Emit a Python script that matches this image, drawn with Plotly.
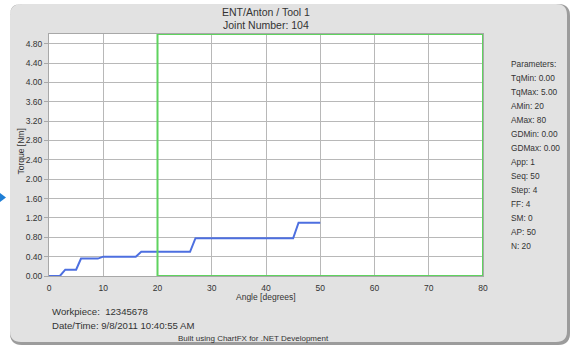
import plotly.graph_objects as go

# ---- data ----
angle = [0, 2.0, 3.0, 5.0, 5.9, 9.0, 10.0, 16.0, 17.0, 26.0, 27.0, 45.0, 46.0, 50.0]
torque = [0.0, 0.0, 0.13, 0.13, 0.36, 0.36, 0.40, 0.40, 0.50, 0.50, 0.78, 0.78, 1.10, 1.10]

param_names = ["TqMin", "TqMax", "AMin", "AMax", "GDMin", "GDMax", "App", "Seq", "Step", "FF", "SM", "AP", "N"]
param_values = ["0.00", "5.00", "20", "80", "0.00", "0.00", "1", "50", "4", "4", "0", "50", "20"]

tq_min, tq_max = 0.0, 5.0
a_min, a_max = 20, 80

title_lines = ["ENT/Anton / Tool 1", "Joint Number: 104"]
workpiece = "Workpiece:  12345678"
datetime_txt = "Date/Time: 9/8/2011 10:40:55 AM"
footer = "Built using ChartFX for .NET Development"

# ---- geometry (pixels) ----
W, H = 577, 346
L, R, T, B = 49, 483, 34, 276
PW, PH = R - L, B - T


def px(x):
    return (x - L) / PW


def py(y):
    return (B - y) / PH


def rrect(x0, y0, x1, y1, r):
    pts = [
        f"M{px(x0 + r)},{py(y0)}",
        f"L{px(x1 - r)},{py(y0)}",
        f"Q{px(x1)},{py(y0)} {px(x1)},{py(y0 + r)}",
        f"L{px(x1)},{py(y1 - r)}",
        f"Q{px(x1)},{py(y1)} {px(x1 - r)},{py(y1)}",
        f"L{px(x0 + r)},{py(y1)}",
        f"Q{px(x0)},{py(y1)} {px(x0)},{py(y1 - r)}",
        f"L{px(x0)},{py(y0 + r)}",
        f"Q{px(x0)},{py(y0)} {px(x0 + r)},{py(y0)}",
        "Z",
    ]
    return " ".join(pts)


def rect(x0, y0, x1, y1):
    return f"M{px(x0)},{py(y0)} L{px(x1)},{py(y0)} L{px(x1)},{py(y1)} L{px(x0)},{py(y1)} Z"


panel = rrect(10, 4, 567, 342, 11)
panel_sh = rrect(10, 4, 570, 345, 12)
outer = rect(-2, -2, W + 2, H + 2)

FONT = "Liberation Sans, Arial, sans-serif"
TXT = "#333333"

fig = go.Figure()
fig.add_trace(go.Scatter(x=angle, y=torque, mode="lines",
                         line=dict(color="#4d6fe0", width=2), hoverinfo="skip"))

shapes = [
    dict(type="path", xref="paper", yref="paper", path=outer + " " + panel_sh,
         fillcolor="white", line=dict(width=0), layer="below"),
    dict(type="path", xref="paper", yref="paper", path=panel_sh + " " + panel,
         fillcolor="#9c9c9c", line=dict(width=0), layer="below"),
    # small blue arrow at left edge
    dict(type="path", xref="paper", yref="paper",
         path=f"M{px(0)},{py(193)} L{px(6)},{py(197.5)} L{px(0)},{py(202)} Z",
         fillcolor="#1f7fd6", line=dict(width=0), layer="above"),
    # limits window
    dict(type="rect", xref="x", yref="y", x0=a_min, x1=a_max, y0=tq_min, y1=tq_max,
         line=dict(color="#5fd35f", width=2), fillcolor="rgba(0,0,0,0)", layer="above"),
]


def A(x, y, text, size, xanchor="center", angle=0):
    return dict(x=px(x), y=py(y), xref="paper", yref="paper", text=text, textangle=angle,
                xanchor=xanchor, yanchor="middle", showarrow=False,
                font=dict(size=size, color=TXT, family=FONT))


ann = [
    A(266, 12, title_lines[0], 10.5),
    A(266, 25, title_lines[1], 10.5),
    A(20.5, 152, "Torque [Nm]", 8.5, angle=-90),
    A(266, 297, "Angle [degrees]", 8.5),
    A(50, 311, workpiece, 9.6, "left"),
    A(50, 325, datetime_txt, 9.6, "left"),
    A(253, 338, footer, 8),
]

plines = ["Parameters:"] + [f"{n}: {v}" for n, v in zip(param_names, param_values)]
for i, t in enumerate(plines):
    ann.append(A(509, 64 + 14.0 * i, t, 8.3, "left"))

fig.update_layout(
    width=W, height=H,
    margin=dict(l=L, r=W - R, t=T, b=H - B, pad=0),
    paper_bgcolor="#e2e2e2",
    plot_bgcolor="white",
    showlegend=False,
    shapes=shapes,
    annotations=ann,
    font=dict(family=FONT, color=TXT, size=8),
)
fig.update_xaxes(range=[0, 80], dtick=10, tick0=0, showgrid=True, gridcolor="#b8b8b8", gridwidth=1,
                 showline=True, mirror=True, linecolor="#a8a8a8", linewidth=1, zeroline=False,
                 ticks="", tickfont=dict(size=8.5, color=TXT, family=FONT), ticklabelstandoff=4)
fig.update_yaxes(range=[0, 5], dtick=0.4, tick0=0, tickformat=".2f", showgrid=True, gridcolor="#b8b8b8",
                 gridwidth=1, showline=True, mirror=True, linecolor="#a8a8a8", linewidth=1, zeroline=False,
                 ticks="outside", ticklen=4, tickcolor="#a8a8a8",
                 tickfont=dict(size=8.5, color=TXT, family=FONT))

fig.write_html("out.html", config={"displayModeBar": False},
               post_script="document.body.style.margin='0px';document.body.style.padding='0px';")
